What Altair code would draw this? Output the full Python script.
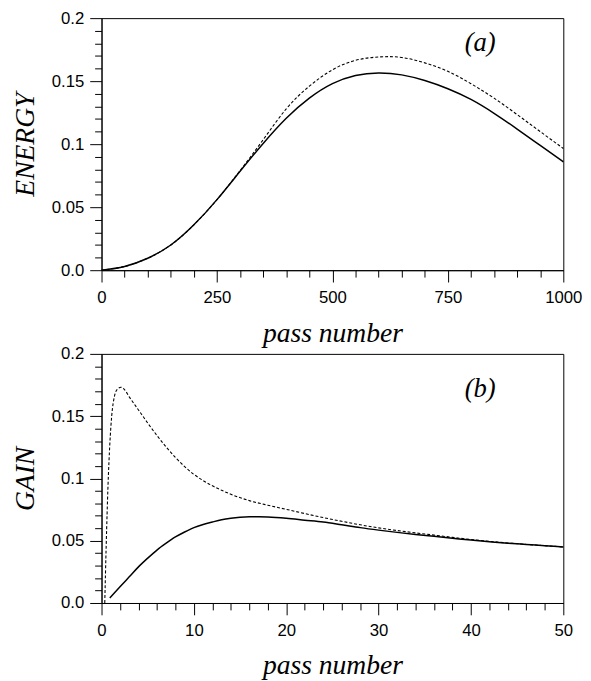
import altair as alt
import pandas as pd

# ---------------- data ----------------
a_pass = [0, 50, 100, 150, 200, 250, 300, 350, 400, 450, 500,
          550, 600, 650, 700, 750, 800, 850, 900, 950, 1000]
a_solid = [0.0, 0.003, 0.0095, 0.020, 0.036, 0.056, 0.0785, 0.1005, 0.1205, 0.1365, 0.148,
           0.1545, 0.1565, 0.155, 0.1505, 0.144, 0.1355, 0.1245, 0.112, 0.099, 0.086]
a_dash = [0.0, 0.003, 0.0095, 0.020, 0.036, 0.056, 0.079, 0.1035, 0.128, 0.146, 0.159,
          0.1665, 0.1692, 0.1688, 0.1645, 0.1578, 0.148, 0.1365, 0.1235, 0.110, 0.0966]

b_solid_pass = [0.9, 2, 3, 4, 5, 6, 7, 8, 9, 10, 11, 12, 13, 14, 15, 16, 17, 18,
                20, 22, 24, 26, 28, 30, 32, 34, 36, 38, 40, 42, 44, 46, 48, 50]
b_solid = [0.004, 0.013, 0.021, 0.029, 0.036, 0.0425, 0.048, 0.053, 0.057, 0.0605, 0.063,
           0.065, 0.0668, 0.068, 0.0688, 0.0692, 0.0692, 0.069, 0.068, 0.0665, 0.065, 0.0628,
           0.0605, 0.0585, 0.0567, 0.055, 0.0535, 0.052, 0.0505, 0.0492, 0.048, 0.047, 0.046, 0.045]
b_dash_pass = [0.35, 0.5, 0.7, 0.9, 1.1, 1.4, 1.7, 2.1, 2.5, 3, 4, 5, 6, 7, 8, 9, 10, 11, 12,
               13, 14, 16, 18, 20, 22, 24, 26, 28, 30, 32, 34, 36, 38, 40, 42, 44, 46, 48, 50]
b_dash = [0.0, 0.045, 0.094, 0.128, 0.150, 0.166, 0.1715, 0.1732, 0.1712, 0.1655, 0.155,
          0.1445, 0.1345, 0.1252, 0.1168, 0.1095, 0.1033, 0.0983, 0.0941, 0.0905, 0.0873,
          0.0822, 0.0785, 0.0752, 0.0718, 0.0686, 0.0656, 0.0628, 0.0603, 0.0582, 0.0563,
          0.0545, 0.0527, 0.051, 0.0495, 0.0482, 0.047, 0.046, 0.045]

y_ticks = [0.0, 0.01, 0.02, 0.03, 0.04, 0.05, 0.06, 0.07, 0.08, 0.09, 0.10,
           0.11, 0.12, 0.13, 0.14, 0.15, 0.16, 0.17, 0.18, 0.19, 0.20]
a_x_ticks = [0, 50, 100, 150, 200, 250, 300, 350, 400, 450, 500,
             550, 600, 650, 700, 750, 800, 850, 900, 950, 1000]
b_x_ticks = [0, 2, 4, 6, 8, 10, 12, 14, 16, 18, 20, 22, 24, 26, 28, 30,
             32, 34, 36, 38, 40, 42, 44, 46, 48, 50]

a_label = {"pass": [820], "value": [0.180], "label": ["(a)"]}
b_label = {"pass": [41], "value": [0.172], "label": ["(b)"]}

SERIF = "Liberation Serif"
SANS = "Liberation Sans"

y_major = "abs(datum.value*20 - round(datum.value*20)) < 1e-6"


def y_enc(title):
    return alt.Y(
        "value:Q",
        scale=alt.Scale(domain=[0, 0.2], nice=False, zero=False),
        axis=alt.Axis(
            values=y_ticks,
            tickSize={"condition": {"test": y_major, "value": 12}, "value": 7},
            labelExpr=f"({y_major}) ? (datum.value == 0 ? '0.0' : format(datum.value, '')) : ''",
            labelOverlap=False,
            labelFlush=False,
            labelPadding=6,
            title=title,
            titleX=-69,
            titleBaseline="alphabetic",
            titleAngle=-90,
        ),
    )


def x_enc(domain, ticks, step):
    test = f"datum.value % {step} === 0"
    return alt.X(
        "pass:Q",
        scale=alt.Scale(domain=domain, nice=False, zero=False),
        axis=alt.Axis(
            values=ticks,
            tickSize={"condition": {"test": test, "value": 12}, "value": 7},
            labelExpr=f"({test}) ? format(datum.value, 'd') : ''",
            labelOverlap=False,
            labelFlush=False,
            labelPadding=8,
            title="pass number",
            titleY=72,
            titleBaseline="alphabetic",
        ),
    )


def panel(xs_s, ys_s, xs_d, ys_d, lab, domain, ticks, step, ytitle, h, interp):
    xe = x_enc(domain, ticks, step)
    ye = y_enc(ytitle)
    solid = alt.Chart(pd.DataFrame({"pass": xs_s, "value": ys_s})).mark_line(
        color="black", strokeWidth=1.5, interpolate=interp
    ).encode(x=xe, y=ye)
    dashed = alt.Chart(pd.DataFrame({"pass": xs_d, "value": ys_d})).mark_line(
        color="black", strokeWidth=1.1, strokeDash=[3, 2], interpolate=interp
    ).encode(x=xe, y=ye)
    text = alt.Chart(pd.DataFrame(lab)).mark_text(
        font=SERIF, fontStyle="italic", fontSize=27, color="black", baseline="middle"
    ).encode(x=xe, y=ye, text="label:N")
    return alt.layer(solid, dashed, text).properties(width=469, height=h)


top = panel(a_pass, a_solid, a_pass, a_dash, a_label, [0, 1000], a_x_ticks, 250,
            "ENERGY", 256, "natural")
bottom = panel(b_solid_pass, b_solid, b_dash_pass, b_dash, b_label, [0, 50], b_x_ticks, 10,
               "GAIN", 253, "monotone")

chart = alt.vconcat(top, bottom, spacing=-4).properties(
    padding={"left": 3, "top": -5, "right": 0, "bottom": 0},
    background="white",
).configure_view(
    stroke="black", strokeWidth=1
).configure_axis(
    grid=False,
    domainColor="black",
    domainWidth=1,
    tickColor="black",
    tickWidth=1,
    labelColor="black",
    labelFont=SANS,
    labelFontSize=17,
    titleColor="black",
    titleFont=SERIF,
    titleFontStyle="italic",
    titleFontWeight="normal",
    titleFontSize=28,
)

chart.save("out.html", embed_options={"renderer": "svg", "actions": False})
